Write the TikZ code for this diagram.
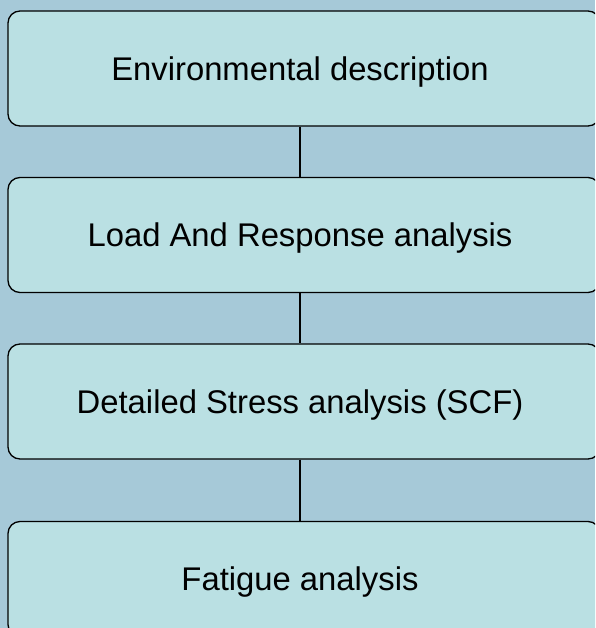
\documentclass[tikz,border=0pt]{standalone}
\usepackage{fontspec}
\setmainfont{Liberation Sans}
\definecolor{pagebg}{RGB}{166,201,216}
\definecolor{stagefill}{RGB}{186,224,227}
\begin{document}
\begin{tikzpicture}[x=1pt,y=-1pt,
  stagebox/.style={draw=black,line width=1.3pt,fill=stagefill,rounded corners=12pt,
    minimum width=592pt,minimum height=115pt,inner sep=0pt,
    text height=23.5pt,text depth=0pt,
    font=\fontsize{32.8}{38}\selectfont},
  link/.style={draw=black,line width=1.2pt}]
\useasboundingbox (0,0) rectangle (595,628);
\clip (0,0) rectangle (595,628);
\fill[pagebg] (0,0) rectangle (595,628);
% the four stages, drawn 592pt wide so their right ends run off the page
\node[stagebox] (env) at (304,68.5) {\hspace*{-8pt}Environmental description};
\node[stagebox] (load) at (304,235) {\hspace*{-8pt}Load And Response analysis};
\node[stagebox] (stress) at (304,401.5) {\hspace*{-8pt}Detailed Stress analysis (SCF)};
\node[stagebox] (fat) at (304,579) {\hspace*{-8pt}Fatigue analysis};
% vertical links between consecutive stages
\draw[link] (env.south) ++(-4,0) coordinate (a1) -- (a1 |- load.north);
\draw[link] (load.south) ++(-4,0) coordinate (a2) -- (a2 |- stress.north);
\draw[link] (stress.south) ++(-4,0) coordinate (a3) -- (a3 |- fat.north);
\end{tikzpicture}
\end{document}
